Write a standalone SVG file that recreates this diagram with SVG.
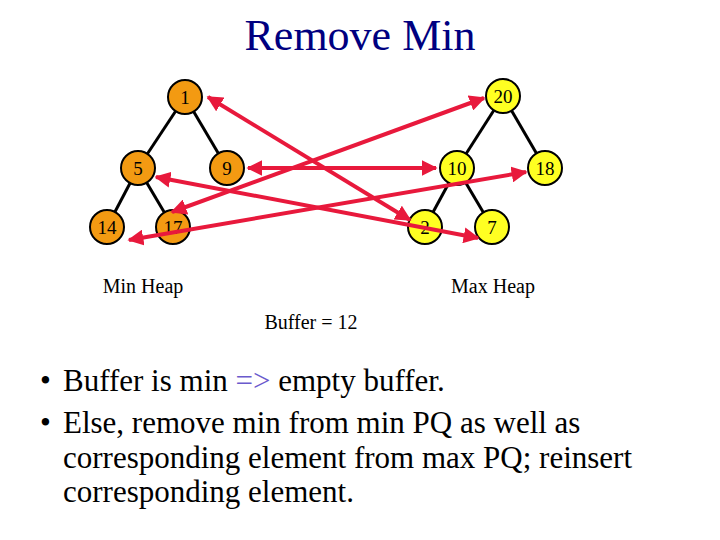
<svg xmlns="http://www.w3.org/2000/svg" width="720" height="540" viewBox="0 0 720 540">
<style>
.t{font-family:"Liberation Serif",serif;fill:#000}
.mn circle{fill:#f39a12;stroke:#000;stroke-width:2}
.mx circle{fill:#ffff22;stroke:#000;stroke-width:2}
.n text{font-family:"Liberation Serif",serif;font-size:19px;text-anchor:middle}
.e line{stroke:#000;stroke-width:3}
.c line{stroke:#e8193c;stroke-width:4;marker-start:url(#a);marker-end:url(#a)}
</style>
<defs><marker id="a" viewBox="0 0 10 10" refX="9" refY="5" markerWidth="4" markerHeight="4" orient="auto-start-reverse"><path d="M0,0L10,5L0,10z" fill="#e8193c"/></marker></defs>
<rect width="720" height="540" fill="#fff"/>
<text x="360" y="50" font-size="44" text-anchor="middle" style="fill:#000080;font-family:'Liberation Serif',serif">Remove Min</text>
<g class="e">
<line x1="185" y1="97" x2="138" y2="168"/><line x1="185" y1="97" x2="227" y2="168"/>
<line x1="138" y1="168" x2="107" y2="227"/><line x1="138" y1="168" x2="173" y2="227"/>
<line x1="503" y1="96" x2="457" y2="168"/><line x1="503" y1="96" x2="545" y2="168"/>
<line x1="457" y1="168" x2="425" y2="227"/><line x1="457" y1="168" x2="492" y2="227"/>
</g>
<g id="n1" class="n mn"><circle cx="185" cy="97" r="17"/><text x="185" y="104">1</text></g>
<g id="n5" class="n mn"><circle cx="138" cy="168" r="17"/><text x="138" y="175">5</text></g>
<g id="n9" class="n mn"><circle cx="227" cy="168" r="17"/><text x="227" y="175">9</text></g>
<g id="n14" class="n mn"><circle cx="107" cy="227" r="17"/><text x="107" y="234">14</text></g>
<g id="n17" class="n mn"><circle cx="173" cy="227" r="17"/><text x="173" y="234">17</text></g>
<g id="n20" class="n mx"><circle cx="503" cy="96" r="17"/><text x="503" y="103">20</text></g>
<g id="n10" class="n mx"><circle cx="457" cy="168" r="17"/><text x="457" y="175">10</text></g>
<g id="n18" class="n mx"><circle cx="545" cy="168" r="17"/><text x="545" y="175">18</text></g>
<g id="n2" class="n mx"><circle cx="425" cy="227" r="17"/><text x="425" y="234">2</text></g>
<g id="n7" class="n mx"><circle cx="492" cy="227" r="17"/><text x="492" y="234">7</text></g>
<g id="connectors" class="c">
<line x1="208" y1="97" x2="410" y2="220"/>
<line x1="248" y1="168" x2="436" y2="168"/>
<line x1="172" y1="212" x2="484" y2="98"/>
<line x1="156" y1="177" x2="478" y2="238"/>
<line x1="129" y1="240" x2="526" y2="172"/>
</g>
<text class="t" x="143" y="293" font-size="20" text-anchor="middle">Min Heap</text>
<text class="t" x="493" y="293" font-size="20" text-anchor="middle">Max Heap</text>
<text class="t" x="311" y="329" font-size="20" text-anchor="middle">Buffer = 12</text>
<g class="t" font-size="31">
<text x="40" y="391">•</text><text x="63" y="391">Buffer is min <tspan style="fill:#6a5acd">=&gt;</tspan> empty buffer.</text>
<text x="40" y="433">•</text><text x="63" y="433">Else, remove min from min PQ as well as</text>
<text x="63" y="468">corresponding element from max PQ; reinsert</text>
<text x="63" y="502">corresponding element.</text>
</g>
</svg>
